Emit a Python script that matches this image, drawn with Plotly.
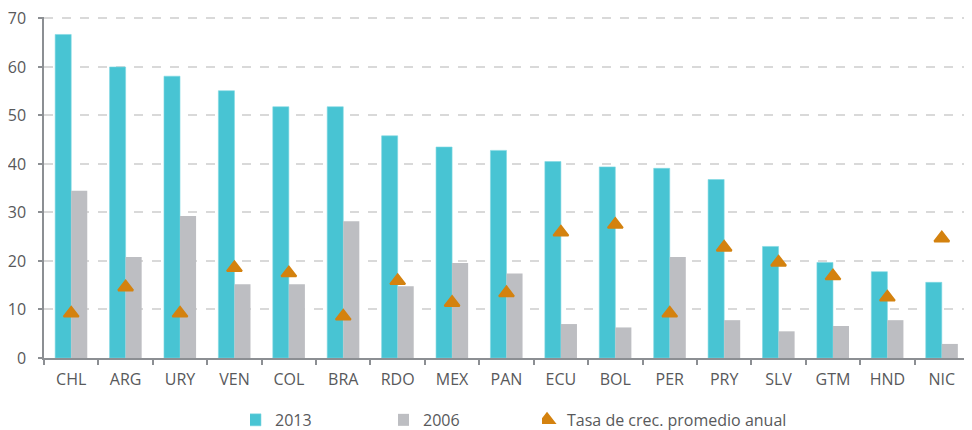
import plotly.graph_objects as go

categories = ["CHL", "ARG", "URY", "VEN", "COL", "BRA", "RDO", "MEX", "PAN",
              "ECU", "BOL", "PER", "PRY", "SLV", "GTM", "HND", "NIC"]
values_2013 = [66.7, 60.0, 58.1, 55.1, 51.8, 51.8, 45.8, 43.5, 42.8,
               40.5, 39.4, 39.1, 36.8, 23.0, 19.7, 17.8, 15.6]
values_2006 = [34.5, 20.8, 29.3, 15.2, 15.2, 28.2, 14.8, 19.6, 17.4,
               7.0, 6.3, 20.8, 7.8, 5.5, 6.6, 7.8, 2.9]
growth_rate = [9.2, 14.6, 9.2, 18.6, 17.5, 8.6, 15.9, 11.4, 13.4,
               25.9, 27.5, 9.2, 22.8, 19.7, 16.9, 12.5, 24.7]
y_ticks = [0, 10, 20, 30, 40, 50, 60, 70]

TEAL = "#48C4D3"
GRAY = "#BDBEC2"
ORANGE = "#D4820F"
TXT = "#58595B"
AX = "#8C8F93"
FONT = "Open Sans"

fig = go.Figure()
fig.add_trace(go.Bar(x=categories, y=values_2013, name="2013",
                     marker=dict(color=TEAL, line=dict(color="#7FD8E2", width=0.6)),
                     legend="legend", showlegend=True))
fig.add_trace(go.Bar(x=categories, y=values_2006, name="2006",
                     marker=dict(color=GRAY, line=dict(width=0)),
                     legend="legend2", showlegend=True))
fig.add_trace(go.Scatter(x=categories, y=growth_rate, name="Tasa de crec. promedio anual",
                         mode="markers",
                         marker=dict(symbol="triangle-up", size=13, color=ORANGE,
                                     line=dict(color=ORANGE, width=2)),
                         legend="legend3", showlegend=True))

legend_common = dict(orientation="h", yref="container", yanchor="middle", y=0.042,
                     xanchor="left",
                     font=dict(family=FONT, size=16, color=TXT),
                     bgcolor="rgba(0,0,0,0)", itemwidth=30, indentation=-15)

fig.update_layout(
    width=972, height=430,
    margin=dict(l=36, r=11, t=9, b=80),
    paper_bgcolor="white", plot_bgcolor="white",
    showlegend=True,
    barmode="group", bargap=0.41, bargroupgap=0,
    font=dict(family=FONT, size=16, color=TXT),
    legend=dict(legend_common, x=0.2227),
    legend2=dict(legend_common, x=0.3827),
    legend3=dict(legend_common, x=0.5384),
    xaxis=dict(type="category", range=[-0.5, 16.5], showline=True, linecolor=AX,
               linewidth=1.5, ticks="outside", tickson="boundaries", ticklen=5,
               tickcolor=AX, tickwidth=1.5, showgrid=False, ticklabelstandoff=6,
               automargin=False,
               tickfont=dict(family=FONT, size=16, color=TXT)),
    yaxis=dict(range=[0, 70.3], tickvals=y_ticks, showline=True, linecolor=AX,
               linewidth=1.5, ticks="outside", ticklen=4, tickcolor=AX, tickwidth=1.5,
               showgrid=True, gridcolor="#D9D9D9", griddash="dash", gridwidth=1.5,
               zeroline=False, ticklabelstandoff=9, automargin=False,
               ticklabeloverflow="allow",
               tickfont=dict(family=FONT, size=16, color=TXT)),
)

fig.write_html("out.html")
